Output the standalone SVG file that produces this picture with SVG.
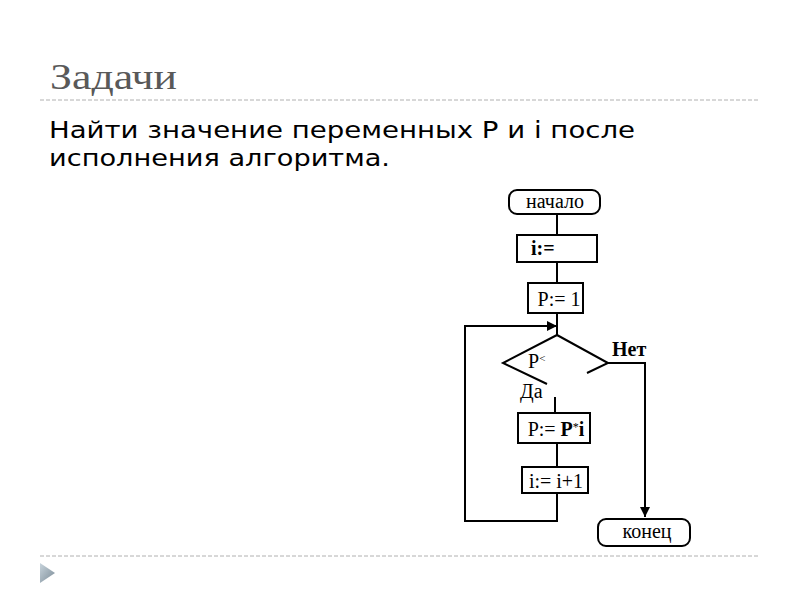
<svg xmlns="http://www.w3.org/2000/svg" width="800" height="600" viewBox="0 0 800 600">
<defs>
<style>
.fc{fill:none;stroke:#000;stroke-width:2}
.box{fill:#fff;stroke:#000;stroke-width:2}
.ft{font-family:"Liberation Serif","Times New Roman",serif;font-size:20px;fill:#000}
.sep{stroke:#b0b0b0;stroke-width:1;stroke-dasharray:4,2}
.body{font-family:"DejaVu Sans",sans-serif;font-size:23.5px;fill:#000}
</style>
<linearGradient id="tri" x1="0" y1="0" x2="1" y2="1">
<stop offset="0" stop-color="#c8d4dc"/>
<stop offset="1" stop-color="#7a8a96"/>
</linearGradient>
<marker id="arr" viewBox="0 0 10 10" refX="10" refY="5" markerWidth="10" markerHeight="10" markerUnits="userSpaceOnUse" orient="auto">
<path d="M0,0 L10,5 L0,10 z" fill="#000"/>
</marker>
</defs>
<rect width="800" height="600" fill="#fff"/>
<g id="header">
<text x="50" y="89" font-family="Liberation Serif,serif" font-size="35" fill="#595959" textLength="127" lengthAdjust="spacingAndGlyphs">Задачи</text>
<line class="sep" x1="40" y1="100" x2="760" y2="100"/>
<text class="body" x="49" y="138" textLength="586" lengthAdjust="spacingAndGlyphs">Найти значение переменных P и i после</text>
<text class="body" x="49" y="166" textLength="341" lengthAdjust="spacingAndGlyphs">исполнения алгоритма.</text>
<line class="sep" x1="40" y1="556" x2="760" y2="556"/>
<path d="M40,563 L55,573 L40,583 z" fill="url(#tri)"/>
</g>
<g id="connectors">
<line class="fc" x1="557" y1="214" x2="557" y2="235"/>
<line class="fc" x1="557" y1="262" x2="557" y2="283"/>
<line class="fc" x1="557" y1="313" x2="557" y2="335"/>
<polyline class="fc" points="557,493 557,521 465,521 465,326 557,326" marker-end="url(#arr)"/>
<polyline class="fc" points="608,363 645,363 645,517" marker-end="url(#arr)"/>
<line class="fc" x1="555" y1="397" x2="555" y2="413"/>
<line class="fc" x1="557" y1="443" x2="557" y2="467"/>
<text class="ft" x="612" y="356" font-weight="bold" font-size="19">Нет</text>
<text class="ft" x="520" y="398">Да</text>
</g>
<g id="start">
<rect class="box" x="509" y="190" width="91" height="24" rx="8"/>
<text class="ft" x="555" y="208" text-anchor="middle">начало</text>
</g>
<g id="input-i">
<rect class="box" x="517" y="235" width="80" height="27"/>
<text class="ft" x="531" y="255" font-weight="bold">i:=</text>
</g>
<g id="init-p">
<rect class="box" x="528" y="283" width="55" height="30"/>
<text class="ft" x="559" y="306" text-anchor="middle">P:= 1</text>
</g>
<g id="condition">
<polyline class="fc" points="547,384 503,363 557,335 608,363 587,373"/>
<text class="ft" x="528" y="368">P<tspan font-size="11" dy="-6">&lt;</tspan></text>
</g>
<g id="mult">
<rect class="box" x="518" y="413" width="72" height="30"/>
<text class="ft" x="556" y="436" text-anchor="middle">P:= <tspan font-weight="bold">P</tspan><tspan font-size="12" dy="-5">*</tspan><tspan font-weight="bold" dy="5">i</tspan></text>
</g>
<g id="incr">
<rect class="box" x="522" y="467" width="66" height="26"/>
<text class="ft" x="556" y="488" text-anchor="middle">i:= i+1</text>
</g>
<g id="end">
<rect class="box" x="598" y="519" width="92" height="27" rx="8"/>
<text class="ft" x="647" y="538" text-anchor="middle" font-size="21">конец</text>
</g>
</svg>
